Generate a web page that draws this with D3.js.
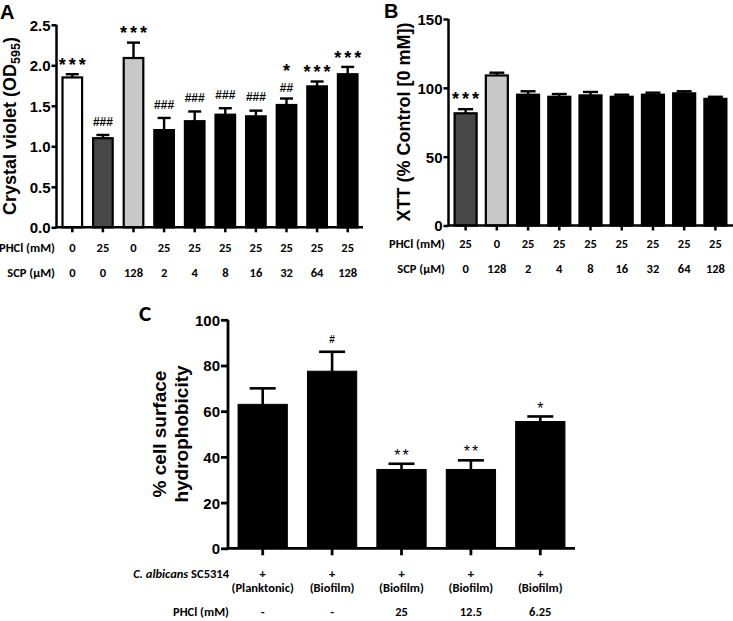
<!DOCTYPE html>
<html><head><meta charset="utf-8">
<script src="https://cdn.jsdelivr.net/npm/d3@7"></script>
<style>
body{margin:0;background:#fff;}
svg{display:block;}
</style></head><body>
<svg id="chart" width="733" height="621"></svg>
<script>
// ---------- Panel A data ----------
const aPHCl = ["0","25","0","25","25","25","25","25","25","25"];
const aSCP = ["0","0","128","2","4","8","16","32","64","128"];
const aValues = [1.85,1.10,2.09,1.20,1.31,1.39,1.37,1.51,1.74,1.89];
const aErrors = [0.04,0.04,0.19,0.15,0.12,0.08,0.07,0.08,0.06,0.09];
const aGroups = ["none","phcl","scp","combo","combo","combo","combo","combo","combo","combo"];
const aMarks = [["***"],["###"],["***"],["###"],["###"],["###"],["###"],["*","##"],["***"],["***"]];
const aTicks = [0,0.5,1,1.5,2,2.5];

// ---------- Panel B data ----------
const bPHCl = ["25","0","25","25","25","25","25","25","25"];
const bSCP = ["0","128","2","4","8","16","32","64","128"];
const bValues = [81.5,109,95,93.5,94.5,93.5,95,96,92];
const bErrors = [3,2,2.5,2,2.5,1.5,1.5,1.5,1.5];
const bGroups = ["phcl","scp","combo","combo","combo","combo","combo","combo","combo"];
const bMarks = [["***"],[],[],[],[],[],[],[],[]];
const bTicks = [0,50,100,150];

// ---------- Panel C data ----------
const cStrain = ["+","+","+","+","+"];
const cState = ["(Planktonic)","(Biofilm)","(Biofilm)","(Biofilm)","(Biofilm)"];
const cPHCl = ["-","-","25","12.5","6.25"];
const cValues = [63,77.5,34.5,34.5,55.5];
const cErrors = [7,8.5,2.5,4,2.2];
const cMarks = [[],["#"],["**"],["**"],["*"]];
const cTicks = [0,20,40,60,80,100];

// ---------- styles ----------
const fillFor = {none:"#ffffff", phcl:"#484848", scp:"#c8c8c8", combo:"#000000"};
const ARIAL = "'Liberation Sans', Arial, sans-serif";
const CALIBRI = "Carlito, Lato, 'Open Sans', sans-serif";

const svg = d3.select("#chart");

function drawPanel(o){
  const g = svg.append("g");
  const n = o.values.length;
  const x = d3.scaleBand().domain(d3.range(n)).range(o.xRange)
      .paddingInner(o.pad).paddingOuter(o.pad/2);
  const y = d3.scaleLinear().domain([0,o.max]).range([o.y0,o.yTop]);
  const bw = x.bandwidth();
  const cx = i => x(i)+bw/2;

  // bars
  g.selectAll("rect.bar").data(o.values).join("rect")
    .attr("x",(d,i)=>x(i)).attr("width",bw)
    .attr("y",d=>y(d)).attr("height",d=>y(0)-y(d))
    .attr("fill",(d,i)=>fillFor[o.groups[i]])
    .attr("stroke","#000").attr("stroke-width",o.barStroke);

  // error bars
  const eg = g.append("g").attr("stroke","#000").attr("stroke-width",o.errStroke);
  o.values.forEach((v,i)=>{
    const top = y(v+o.errors[i]);
    eg.append("line").attr("x1",cx(i)).attr("x2",cx(i)).attr("y1",y(v)).attr("y2",top);
    eg.append("line").attr("x1",cx(i)-o.cap/2).attr("x2",cx(i)+o.cap/2).attr("y1",top).attr("y2",top);
  });

  // annotations (stacked lines, bottom line nearest the error bar)
  o.marks.forEach((lines,i)=>{
    if(!lines.length) return;
    const stacked = lines.length > 1;
    const gap = stacked ? 11 : o.markGap;
    const step = 20.5;
    let center = y(o.values[i]+o.errors[i]) - gap - step*(lines.length-1);
    lines.forEach(s=>{
      const star = s[0]==="*";
      const fs = star ? o.starSize : o.hashSize;
      const k = star ? 0.57 : 0.36;
      g.append("text").attr("text-anchor","middle").attr("font-family",ARIAL)
        .attr("x",cx(i) + (star? o.starLS/2 : 0)).attr("y",center + k*fs)
        .attr("font-weight",star?o.starWeight:"bold")
        .attr("font-size",fs).attr("letter-spacing",star?o.starLS:0)
        .text(s);
      center += step;
    });
  });

  // y axis
  const ya = g.append("g").attr("transform",`translate(${o.axisX},0)`)
    .call(d3.axisLeft(y).tickValues(o.ticks).tickSize(o.tickLen).tickSizeOuter(0)
      .tickPadding(1).tickFormat(o.fmt));
  ya.select(".domain").attr("stroke-width",o.axisStroke).attr("d",`M0,${o.y0}V${o.yTop}`);
  ya.selectAll(".tick line").attr("stroke-width",o.axisStroke);
  ya.selectAll(".tick text").attr("font-family",ARIAL).attr("font-weight","bold")
    .attr("font-size",o.tickFont).attr("fill","#000").attr("dy","0.36em");

  // x axis
  const xa = g.append("g").attr("transform",`translate(0,${o.y0})`)
    .call(d3.axisBottom(x).tickSize(o.xTickLen).tickFormat(""));
  xa.select(".domain").remove();
  xa.selectAll(".tick line").attr("stroke-width",o.axisStroke);
  g.append("line").attr("x1",o.axisX-1).attr("x2",o.xEnd).attr("y1",o.y0).attr("y2",o.y0)
    .attr("stroke","#000").attr("stroke-width",o.axisStroke);

  // category rows
  o.rows.forEach(r=>{
    if(r.label){
      const t = g.append("text").attr("x",o.rowLabelX).attr("y",r.y).attr("text-anchor","end")
        .attr("font-family",CALIBRI).attr("font-weight","bold").attr("font-size",o.rowFont);
      if(r.italic){
        t.append("tspan").attr("font-style","italic").text(r.italic);
        t.append("tspan").text(r.label);
      } else t.text(r.label);
    }
    r.vals.forEach((s,i)=>{
      g.append("text").attr("x",cx(i)).attr("y",r.y).attr("text-anchor","middle")
        .attr("font-family",CALIBRI).attr("font-weight","bold").attr("font-size",o.rowFont)
        .text(s);
    });
  });
  return {g,x,y};
}

// Panel A
drawPanel({
  values:aValues, errors:aErrors, groups:aGroups, marks:aMarks, ticks:aTicks,
  max:2.5, xRange:[57,363], pad:0.36, y0:227.3, yTop:24.8, axisX:56.5, xEnd:363,
  fmt:d3.format(".1f"), tickLen:5, xTickLen:5, axisStroke:2.5, tickFont:15,
  barStroke:2.2, errStroke:2.4, cap:13, markGap:13.5, starSize:18, hashSize:12,
  starLS:3, starWeight:"bold", rowFont:12.5, rowLabelX:55,
  rows:[{label:"PHCl (mM)",y:252,vals:aPHCl},{label:"SCP (µM)",y:277,vals:aSCP}]
});
svg.append("text").attr("x",0).attr("y",18.5).attr("font-family",ARIAL).attr("font-weight","bold")
  .attr("font-size",20).text("A");
{
  const t = svg.append("text").attr("transform","translate(16,126) rotate(-90)")
    .attr("text-anchor","middle").attr("font-family",ARIAL).attr("font-weight","bold").attr("font-size",18);
  t.append("tspan").text("Crystal violet (OD");
  t.append("tspan").attr("dy",4).attr("font-size",12.5).text("595");
  t.append("tspan").attr("dy",-4).text(")");
}

// Panel B
drawPanel({
  values:bValues, errors:bErrors, groups:bGroups, marks:bMarks, ticks:bTicks,
  max:150, xRange:[450,731], pad:0.295, y0:225.5, yTop:19, axisX:448.5, xEnd:733,
  fmt:d3.format("d"), tickLen:5, xTickLen:5, axisStroke:2.5, tickFont:15,
  barStroke:2.2, errStroke:2.4, cap:15, markGap:14, starSize:18, hashSize:12,
  starLS:3, starWeight:"bold", rowFont:12.5, rowLabelX:445,
  rows:[{label:"PHCl (mM)",y:248,vals:bPHCl},{label:"SCP (µM)",y:273,vals:bSCP}]
});
svg.append("text").attr("x",384).attr("y",18).attr("font-family",ARIAL).attr("font-weight","bold")
  .attr("font-size",20).text("B");
svg.append("text").attr("transform","translate(410,122) rotate(-90)")
  .attr("text-anchor","middle").attr("font-family",ARIAL).attr("font-weight","bold").attr("font-size",18)
  .text("XTT (% Control [0 mM])");

// Panel C
drawPanel({
  values:cValues, errors:cErrors, groups:["combo","combo","combo","combo","combo"], marks:cMarks, ticks:cTicks,
  max:100, xRange:[228,575], pad:0.29, y0:548.3, yTop:319.8, axisX:228, xEnd:575,
  fmt:d3.format("d"), tickLen:7, xTickLen:7, axisStroke:2.8, tickFont:15,
  barStroke:1, errStroke:2.6, cap:26, markGap:12, starSize:16, hashSize:10,
  starLS:2, starWeight:"normal", rowFont:12.5, rowLabelX:229,
  rows:[{italic:"C. albicans", label:" SC5314", y:578, vals:cStrain},
        {label:null, y:592, vals:cState},
        {label:"PHCl (mM)", y:616, vals:cPHCl}]
});
svg.append("text").attr("x",139).attr("y",321).attr("font-family",CALIBRI).attr("font-weight","bold")
  .attr("font-size",23).text("C");
{
  const t = svg.append("text").attr("transform","translate(0,434) rotate(-90)")
    .attr("text-anchor","middle").attr("font-family",ARIAL).attr("font-weight","bold").attr("font-size",19);
  t.append("tspan").attr("x",0).attr("y",166).text("% cell surface");
  t.append("tspan").attr("x",0).attr("y",188).text("hydrophobicity");
}
</script>
</body></html>
